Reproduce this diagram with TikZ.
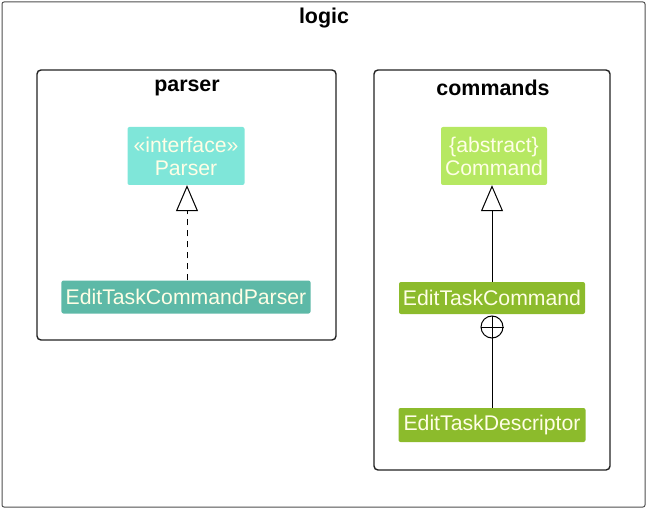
\documentclass[tikz,border=0pt]{standalone}
\usepackage{fontspec}
\setmainfont{Liberation Sans}
\usetikzlibrary{arrows.meta}

\definecolor{ifacefill}{HTML}{7FE6D9}
\definecolor{parserfill}{HTML}{5DB9A7}
\definecolor{absfill}{HTML}{B6E862}
\definecolor{cmdfill}{HTML}{8CBB2C}
\definecolor{pkgline}{HTML}{222222}

\tikzset{
  pkg/.style={draw=pkgline, line width=1.4bp, rounded corners=4bp},
  pkgtitle/.style={font=\fontsize{21.5}{23}\selectfont\bfseries},
  cls/.style={rounded corners=2bp, text=white!90!yellow, inner sep=0pt,
    font=\fontsize{21.3}{23}\selectfont, align=center},
  realize/.style={dashed, dash pattern=on 6bp off 5bp, line width=1bp,
    -{Triangle[open, length=26bp, width=22bp]}},
  extend/.style={line width=1bp, -{Triangle[open, length=26bp, width=22bp]}}
}

\begin{document}
\begin{tikzpicture}[x=1bp, y=-1bp]
    \useasboundingbox (0,0) rectangle (648,510);
    \draw[draw=pkgline!80, line width=1bp, rounded corners=2bp] (2,2) rectangle (645,507);
    \node[pkgtitle] (logic) at (324,18) {logic};

    \draw[pkg] (37,70) rectangle (336,340);
    \node[pkgtitle] (parser) at (187,88) {parser};
    \draw[pkg] (374,70) rectangle (610,470);
    \node[pkgtitle] (commands) at (493,88) {commands};

    \node[cls, fill=ifacefill, minimum width=117bp, minimum height=58bp] (Parser) at (186,156)
      {«interface»\\Parser};
    \node[cls, fill=parserfill, minimum width=249bp, minimum height=33bp] (EditTaskCommandParser) at (186,297)
      {EditTaskCommandParser};

    \node[cls, fill=absfill, minimum width=106bp, minimum height=58bp] (Command) at (494,156)
      {\{abstract\}\\Command};
    \node[cls, fill=cmdfill, minimum width=186bp, minimum height=32bp] (EditTaskCommand) at (492,298)
      {EditTaskCommand};
    \node[cls, fill=cmdfill, minimum width=187bp, minimum height=34bp] (EditTaskDescriptor) at (492,425)
      {EditTaskDescriptor};

    \draw[realize] (EditTaskCommandParser.north -| 187,0) to (Parser.south -| 187,0);
    \draw[extend] (EditTaskCommand.north) to (Command.south -| EditTaskCommand.north);

    \node[draw, circle, line width=1bp, minimum size=22bp, inner sep=0pt] (nest) at (492,327) {};
    \draw[line width=1bp] (nest.north) -- (nest.south) (nest.west) -- (nest.east);
    \draw[line width=1bp] (EditTaskDescriptor.north) -- (nest.south);
\end{tikzpicture}
\end{document}
